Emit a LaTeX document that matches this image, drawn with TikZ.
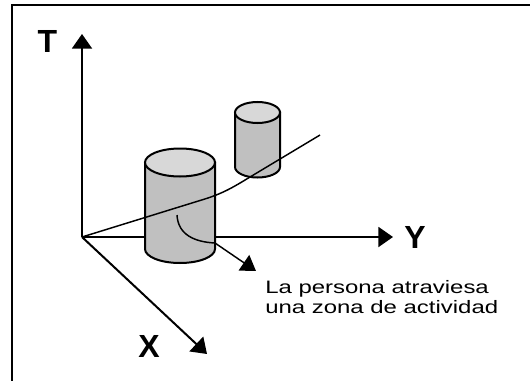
\documentclass[tikz,border=0pt]{standalone}
\usepackage{fontspec}
\setsansfont{Liberation Sans}
\newfontfamily\notefont[FakeStretch=1.33]{Liberation Sans}
\usetikzlibrary{arrows.meta}
\definecolor{cylside}{RGB}{192,192,192}
\definecolor{cyltop}{RGB}{216,216,216}

\begin{document}
\begin{tikzpicture}[x=0.75pt, y=-0.75pt,
  axis/.style={-{Triangle[length=11pt, width=15pt]}, line width=1.5pt},
  axislabel/.style={font=\sffamily\bfseries\fontsize{24}{24}\selectfont, inner sep=0pt},
  cyl/.style={draw=black, line width=1.5pt},
  path/.style={line width=1.1pt},
  note/.style={font=\notefont\fontsize{13.5}{15}\selectfont, align=left, inner sep=0pt, anchor=north west}
]
\useasboundingbox (0,0) rectangle (530,381);
\draw[line width=1.8pt] (530,5) -- (12,5) -- (12,381);

\coordinate (O)    at (82,237);
\coordinate (Ttip) at (82,34);
\coordinate (Ytip) at (393,237);
\coordinate (Xtip) at (207,354);

\node[axislabel] (T) at (47.5,41.5) {T};
\node[axislabel] (Y) at (415,237)   {Y};
\node[axislabel] (X) at (149,346)   {X};

\draw[axis] (O) -- (Ttip);
\draw[axis] (O) -- (Ytip);
\draw[axis] (O) -- (Xtip);

\foreach \cx/\ty/\by/\rx/\ry in {180/162.5/249/35/14, 257.5/112.5/167/22.5/10.5}{
  \filldraw[cyl, fill=cylside] (\cx-\rx,\ty) -- (\cx-\rx,\by)
    arc[start angle=180, end angle=0, x radius=\rx, y radius=\ry]
    -- (\cx+\rx,\ty) -- cycle;
  \filldraw[cyl, fill=cyltop] (\cx,\ty) ellipse[x radius=\rx, y radius=\ry];
}

\coordinate (Pend) at (320,135);
\draw[path] (O) -- (200,200.5) .. controls (222,194) and (232,188) .. (250,177) -- (Pend);

\node[note] (txt) at (265,280) {La persona atraviesa\\una zona de actividad};

\coordinate (Astart) at (177,215);
\coordinate (Atip)   at (256,271);
\draw[path, -{Triangle[length=11pt, width=14pt]}] (Astart) .. controls (178,235) and (195,242) .. (215,243) -- (Atip);
\end{tikzpicture}
\end{document}
